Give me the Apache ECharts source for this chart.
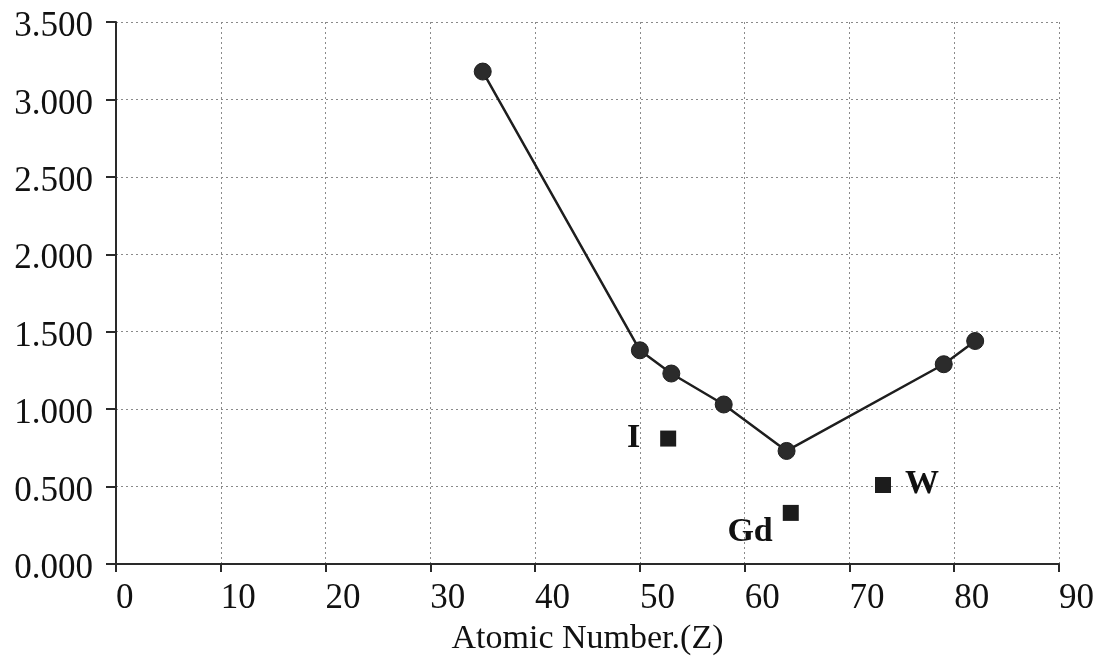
<!DOCTYPE html>
<html>
<head>
<meta charset="utf-8">
<script src="https://cdn.jsdelivr.net/npm/echarts@6/dist/echarts.min.js"></script>
<style>
  html, body { margin: 0; padding: 0; background: #fff; }
  #chart { width: 1099px; height: 656px; }
</style>
</head>
<body>
<div id="chart"></div>
<script>
// Measured curve: value versus atomic number
const lineZ = [35, 50, 53, 58, 64, 79, 82];
const lineVal = [3.18, 1.38, 1.23, 1.03, 0.73, 1.29, 1.44];

// Individual contrast elements
const elementNames = ['I', 'Gd', 'W'];
const elementZ = [52.7, 64.4, 73.2];
const elementVal = [0.81, 0.33, 0.51];

// Axis ticks
const xTicks = [0, 90, 10];   // min, max, step
const yTicks = [0, 3.5, 0.5];

const FONT = '"Liberation Serif", "DejaVu Serif", serif';
const INK = '#1e1e1e';

// Where each element's name sits around its square
const labelLayout = {
  I:  { position: 'left',  distance: 20, offset: [0, 0] },
  Gd: { position: 'left',  distance: 10, offset: [0, 19] },
  W:  { position: 'right', distance: 14, offset: [0, -1] }
};

const chart = echarts.init(document.getElementById('chart'), null, { renderer: 'canvas' });

const gridLine = { show: true, lineStyle: { color: '#8a8a8a', width: 1, type: [2, 3] } };

chart.setOption({
  animation: false,
  backgroundColor: '#ffffff',
  grid: { left: 116, right: 40, top: 22, bottom: 92, containLabel: false, outerBoundsMode: 'none' },
  xAxis: {
    type: 'value',
    min: xTicks[0], max: xTicks[1], interval: xTicks[2],
    name: 'Atomic Number.(Z)',
    nameLocation: 'middle',
    nameGap: 58,
    nameTextStyle: { fontFamily: FONT, fontSize: 34, color: '#111' },
    axisLine: { show: true, onZero: false, lineStyle: { color: '#2a2a2a', width: 2 } },
    axisTick: { show: true, inside: false, length: 8, lineStyle: { color: '#2a2a2a', width: 2 } },
    axisLabel: { fontFamily: FONT, fontSize: 35, color: '#111', align: 'left', margin: 17 },
    splitLine: gridLine
  },
  yAxis: {
    type: 'value',
    min: yTicks[0], max: yTicks[1], interval: yTicks[2],
    axisLine: { show: true, onZero: false, lineStyle: { color: '#2a2a2a', width: 2 } },
    axisTick: { show: true, inside: false, length: 10, lineStyle: { color: '#2a2a2a', width: 2 } },
    axisLabel: {
      fontFamily: FONT, fontSize: 35, color: '#111', margin: 23,
      // a short spacer line above each value drops the number a few pixels below its gridline
      formatter: v => '{s| }\n{v|' + v.toFixed(3) + '}',
      rich: {
        s: { fontSize: 8, lineHeight: 10 },
        v: { fontFamily: FONT, fontSize: 35, lineHeight: 36, color: '#111' }
      }
    },
    splitLine: gridLine
  },
  series: [
    {
      type: 'line',
      data: lineZ.map((z, i) => [z, lineVal[i]]),
      symbol: 'circle',
      symbolSize: 17,
      itemStyle: { color: '#2b2b2b', borderColor: INK, borderWidth: 1 },
      lineStyle: { color: INK, width: 2.5 },
      z: 3
    },
    {
      type: 'scatter',
      symbol: 'rect',
      symbolSize: 16,
      itemStyle: { color: '#1c1c1c', opacity: 1 },
      data: elementNames.map((n, i) => {
        const L = labelLayout[n];
        return {
          name: n,
          value: [elementZ[i], elementVal[i]],
          label: {
            show: true,
            formatter: '{b}',
            position: L.position,
            distance: L.distance,
            offset: L.offset,
            fontFamily: FONT,
            fontWeight: 'bold',
            fontSize: 34,
            color: '#111',
            opacity: 1
          }
        };
      }),
      z: 3
    }
  ]
});
</script>
</body>
</html>
